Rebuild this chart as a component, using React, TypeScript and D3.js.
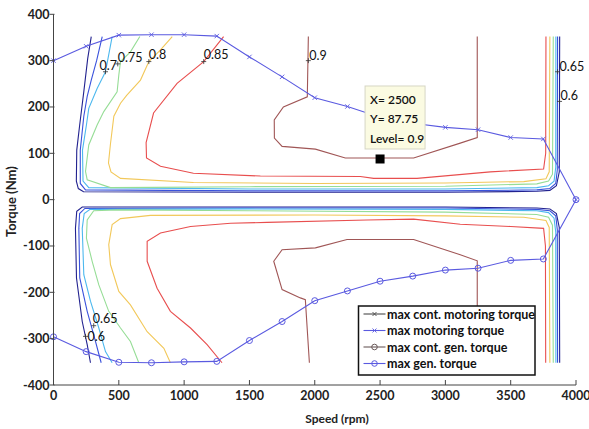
import React from "react";
import * as d3 from "d3";

type Pt = [number, number];

const W = 589;
const H = 429;

const speedTicks = [0, 500, 1000, 1500, 2000, 2500, 3000, 3500, 4000];
const torqueTicks = [-400, -300, -200, -100, 0, 100, 200, 300, 400];

// envelope curves, read every 250 rpm
const envSpeed = [0, 250, 500, 750, 1000, 1250, 1500, 1750, 2000, 2250, 2500, 2750, 3000, 3250, 3500, 3750, 4000];
const maxMotoring = [300, 331, 355, 356, 356, 353, 308, 265, 220, 201, 178, 165, 156, 151, 134, 131, 0];
const maxGen = [-296, -328, -351, -352, -350, -349, -304, -263, -218, -197, -176, -165, -152, -148, -131, -128, 0];

// efficiency contours, upper (motoring) and lower (generating) halves
const c60Up: Pt[] = [[289, 352], [262, 305], [232, 233], [200, 160], [178, 107], [175, 40], [190, 24], [230, 17], [1500, 16], [3000, 16], [3700, 18], [3800, 20], [3850, 30], [3872, 60], [3875, 352]];
const c65Up: Pt[] = [[373, 352], [330, 300], [289, 258], [258, 223], [232, 180], [205, 107], [205, 35], [245, 21], [1500, 19], [3000, 19], [3700, 21], [3800, 24], [3845, 35], [3857, 65], [3859, 352]];
const c70Up: Pt[] = [[449, 352], [398, 276], [334, 240], [270, 197], [252, 161], [222, 107], [226, 40], [270, 26], [1500, 23], [3000, 23], [3700, 26], [3790, 30], [3832, 40], [3845, 70], [3846, 352]];
const c75Up: Pt[] = [[661, 352], [589, 319], [513, 298], [500, 269], [487, 233], [385, 190], [334, 161], [270, 118], [245, 61], [258, 43], [436, 26], [1500, 28], [3000, 29], [3700, 34], [3790, 40], [3820, 55], [3826, 352]];
const c80Up: Pt[] = [[909, 352], [819, 323], [730, 298], [666, 258], [560, 225], [513, 208], [462, 180], [436, 120], [421, 79], [440, 60], [513, 46], [1071, 37], [2000, 35], [3000, 36], [3600, 39], [3770, 45], [3795, 60], [3800, 352]];
const c85Up: Pt[] = [[1302, 352], [1150, 298], [946, 251], [766, 187], [709, 123], [712, 90], [819, 72], [1071, 57], [1584, 51], [2349, 50], [2451, 46], [2783, 46], [3344, 60], [3752, 66], [3768, 100], [3770, 352]];
const c90Up: Pt[] = [[1951, 352], [1943, 222], [1760, 200], [1690, 172], [1691, 133], [1750, 115], [2005, 109], [2234, 90], [2757, 90], [3114, 122], [3244, 134], [3244, 352]];

const c60Dn: Pt[] = [[283, -352], [258, -313], [220, -263], [176, -169], [168, -62], [178, -25], [220, -16], [1500, -16], [3000, -16], [3700, -18], [3800, -20], [3850, -30], [3872, -60], [3875, -352]];
const c65Dn: Pt[] = [[365, -352], [308, -292], [258, -241], [201, -169], [194, -62], [200, -30], [240, -19], [1500, -18], [3000, -18], [3700, -21], [3800, -24], [3845, -35], [3857, -65], [3859, -352]];
const c70Dn: Pt[] = [[449, -352], [398, -328], [347, -277], [283, -219], [232, -162], [220, -62], [235, -30], [280, -21], [1500, -20], [3000, -21], [3700, -24], [3790, -28], [3832, -40], [3845, -70], [3846, -352]];
const c75Dn: Pt[] = [[653, -352], [589, -306], [513, -277], [423, -241], [347, -184], [296, -133], [252, -83], [258, -44], [308, -24], [487, -22], [1500, -24], [3000, -27], [3700, -32], [3790, -38], [3820, -55], [3826, -352]];
const c80Dn: Pt[] = [[895, -352], [845, -321], [717, -285], [589, -227], [500, -198], [436, -140], [423, -97], [449, -54], [513, -41], [742, -34], [2000, -33], [3000, -35], [3600, -38], [3770, -45], [3795, -60], [3800, -352]];
const c85Dn: Pt[] = [[1290, -352], [1176, -313], [1049, -277], [895, -241], [793, -191], [717, -133], [717, -90], [819, -72], [1049, -58], [1356, -51], [1635, -49], [2400, -44], [2757, -42], [3114, -53], [3500, -58], [3752, -62], [3766, -100], [3768, -352]];
const c90Dn: Pt[] = [[1959, -352], [1928, -216], [1890, -212], [1750, -194], [1686, -133], [1750, -108], [2005, -104], [2247, -86], [2757, -86], [3114, -119], [3244, -132], [3244, -352]];

const levelColors = ["#22228f", "#3a52dc", "#4cb8ee", "#96dd96", "#f2c85a", "#e84e4e", "#a05656"];
const contours = [
  [c60Up, c60Dn], [c65Up, c65Dn], [c70Up, c70Dn], [c75Up, c75Dn],
  [c80Up, c80Dn], [c85Up, c85Dn], [c90Up, c90Dn]
];

// clabel positions (speed, torque)
const contourLabels = [
  { text: "0.7", speed: 398, torque: 276, dx: -6, dy: -2 },
  { text: "0.75", speed: 492, torque: 293, dx: 0, dy: -2 },
  { text: "0.8", speed: 730, torque: 298, dx: 0, dy: -3 },
  { text: "0.85", speed: 1150, torque: 298, dx: 0, dy: -3 },
  { text: "0.9", speed: 1951, torque: 300, dx: 1, dy: -1 },
  { text: "0.65", speed: 3859, torque: 276, dx: 2, dy: -1 },
  { text: "0.6", speed: 3874, torque: 212, dx: 1, dy: -1 },
  { text: "0.65", speed: 308, torque: -272, dx: -1, dy: -3 },
  { text: "0.6", speed: 245, torque: -295, dx: 2, dy: 5 }
];

const tipSpeed = 2500;
const tipTorque = 87.75;
const tipLines = ["X= 2500", "Y= 87.75", "Level= 0.9"];

const legendNames = ["max cont. motoring torque", "max motoring torque", "max cont. gen. torque", "max gen. torque"];
const legendColors = ["#4a4a4a", "#5a5ae0", "#6a5a5a", "#5a5ae0"];
const legendMarkers = ["x", "x", "o", "o"];

const blue = "#5a5ae0";
const font = "Lato, 'Open Sans', sans-serif";

const x = d3.scaleLinear().domain([0, 4000]).range([53.5, 576]);
const y = d3.scaleLinear().domain([-400, 400]).range([385, 14.3]);

const line = d3.line<Pt>().x((d) => x(d[0])).y((d) => y(d[1]));

function XMark({ cx, cy, color, s = 2.2 }: { cx: number; cy: number; color: string; s?: number }) {
  return (
    <g stroke={color} strokeWidth={0.9}>
      <line x1={cx - s} y1={cy - s} x2={cx + s} y2={cy + s} />
      <line x1={cx - s} y1={cy + s} x2={cx + s} y2={cy - s} />
    </g>
  );
}

export default function App() {
  const motorPts: Pt[] = envSpeed.map((s, i) => [s, maxMotoring[i]]);
  const genPts: Pt[] = envSpeed.map((s, i) => [s, maxGen[i]]);

  const tx = x(tipSpeed);
  const ty = y(tipTorque);
  const boxX = tx - 15;
  const boxY = ty - 73;

  const legX = 358.5;
  const legY = 306;

  return (
    <svg
      width={W}
      height={H}
      style={{ position: "absolute", left: 0, top: 0, background: "#fff" }}
      fontFamily={font}
    >
      {/* contours */}
      {contours.map((pair, i) =>
        pair.map((pts, j) => (
          <path key={`${i}-${j}`} d={line(pts) ?? ""} fill="none" stroke={levelColors[i]} strokeWidth={1.1} />
        ))
      )}

      {/* envelopes */}
      <path d={line(motorPts) ?? ""} fill="none" stroke={blue} strokeWidth={1.1} />
      {motorPts.map((d, i) => (
        <XMark key={i} cx={x(d[0])} cy={y(d[1])} color={blue} />
      ))}
      <path d={line(genPts) ?? ""} fill="none" stroke={blue} strokeWidth={1.1} />
      {genPts.map((d, i) => (
        <circle key={i} cx={x(d[0])} cy={y(d[1])} r={3} fill="none" stroke={blue} strokeWidth={1} />
      ))}

      {/* contour labels */}
      {contourLabels.map((l, i) => (
        <g key={i}>
          <g stroke="#333" strokeWidth={0.8}>
            <line x1={x(l.speed) - 2.5} x2={x(l.speed) + 2.5} y1={y(l.torque)} y2={y(l.torque)} />
            <line x1={x(l.speed)} x2={x(l.speed)} y1={y(l.torque) - 2.5} y2={y(l.torque) + 2.5} />
          </g>
          <text x={x(l.speed) + l.dx} y={y(l.torque) + l.dy} fontSize={12.5} fill="#111">
            {l.text}
          </text>
        </g>
      ))}

      {/* axes */}
      <line x1={x(0)} x2={x(0)} y1={y(400)} y2={y(-400)} stroke="#444" strokeWidth={1} />
      <line x1={x(0)} x2={x(4000)} y1={y(-400)} y2={y(-400)} stroke="#444" strokeWidth={1} />
      {torqueTicks.map((t) => (
        <g key={t}>
          <line x1={x(0) - 4} x2={x(0) + 1} y1={y(t)} y2={y(t)} stroke="#444" />
          <text x={x(0) - 4} y={y(t) + 4.5} textAnchor="end" fontSize={12.5} fontWeight="bold" fill="#222">
            {t}
          </text>
        </g>
      ))}
      {speedTicks.map((s) => (
        <g key={s}>
          <line x1={x(s)} x2={x(s)} y1={y(-400)} y2={y(-400) - 5} stroke="#444" />
          <text x={x(s)} y={y(-400) + 15} textAnchor="middle" fontSize={12.5} fontWeight="bold" fill="#222">
            {s}
          </text>
        </g>
      ))}
      <text x={337} y={423} textAnchor="middle" fontSize={12} fontWeight="bold" fill="#222">
        Speed (rpm)
      </text>
      <text
        transform={`translate(16,${y(0) + 2}) rotate(-90)`}
        textAnchor="middle"
        fontSize={13}
        fontWeight="bold"
        fill="#222"
      >
        Torque (Nm)
      </text>

      {/* data tip */}
      <rect x={tx - 4.5} y={ty - 4.5} width={9} height={9} fill="#000" />
      <rect x={boxX} y={boxY} width={60} height={63} fill="#fbfbe2" stroke="#d6d6c4" strokeWidth={1} />
      {tipLines.map((t, i) => (
        <text key={t} x={boxX + 5} y={boxY + 18 + i * 19.3} fontSize={12} fontWeight={600} fill="#111">
          {t}
        </text>
      ))}

      {/* legend */}
      <rect x={legX} y={legY} width={176.5} height={69} fill="#fff" stroke="#111" strokeWidth={1.5} />
      {legendNames.map((n, i) => {
        const ry = legY + 8 + i * 16.5;
        const mx = legX + 16;
        return (
          <g key={n}>
            <line x1={legX + 5} x2={legX + 27} y1={ry} y2={ry} stroke={legendColors[i]} strokeWidth={1.1} />
            {legendMarkers[i] === "x" ? (
              <XMark cx={mx} cy={ry} color={legendColors[i]} s={2} />
            ) : (
              <circle cx={mx} cy={ry} r={2.8} fill="none" stroke={legendColors[i]} strokeWidth={1} />
            )}
            <text x={legX + 28.5} y={ry + 4.5} fontSize={12.5} fontWeight="bold" fill="#111">
              {n}
            </text>
          </g>
        );
      })}
    </svg>
  );
}
